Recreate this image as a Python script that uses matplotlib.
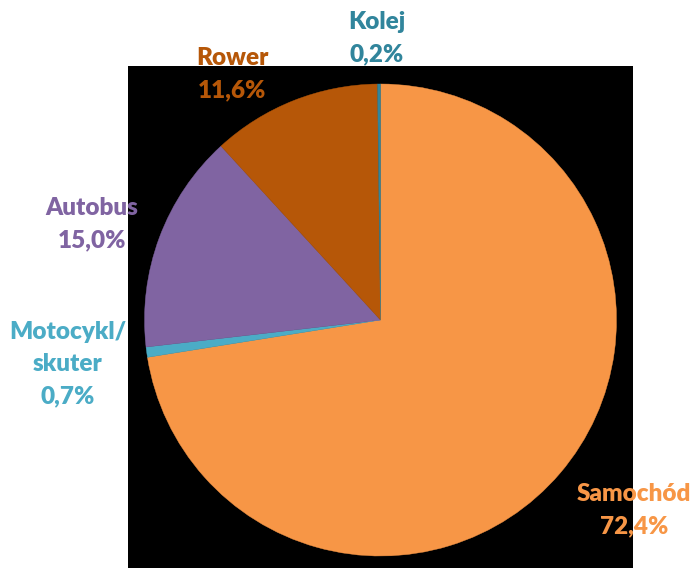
import matplotlib
matplotlib.use("Agg")
import matplotlib.pyplot as plt
from matplotlib.patches import Rectangle

categories = ["Samochód", "Motocykl/\nskuter", "Autobus", "Rower", "Kolej"]
values = [72.4, 0.7, 15.0, 11.6, 0.2]
pct_labels = ["72,4%", "0,7%", "15,0%", "11,6%", "0,2%"]
colors = ["#F79646", "#4BACC6", "#8064A2", "#B65708", "#31859C"]

# label anchor (top line centre) in pixel coords (y measured from top)
label_pos = [(634, 494), (68, 332), (92, 208), (232, 58), (377, 22)]

W, H = 696, 568
fig = plt.figure(figsize=(W / 100, H / 100), dpi=100)
fig.patch.set_facecolor("white")
ax = fig.add_axes([0, 0, 1, 1])

# black plot-area background
ax.add_patch(Rectangle((128, 0), 505, H - 66, facecolor="black", edgecolor="none", zorder=0))

cx, cy, r = 380.5, H - 320, 236
wedges, _ = ax.pie(values, colors=colors, startangle=90, counterclock=False,
                   center=(cx, cy), radius=r, frame=True)
for w, c in zip(wedges, colors):
    w.set_edgecolor(c)
    w.set_linewidth(0.3)
ax.set_xlim(0, W)
ax.set_ylim(0, H)
ax.set_aspect("auto")
ax.axis("off")

pitch = 32
for name, pct, col, (x, y) in zip(categories, pct_labels, colors, label_pos):
    lines = name.split("\n") + [pct]
    for i, ln in enumerate(lines):
        ax.text(x, H - (y + i * pitch), ln, ha="center", va="center",
                color=col, fontsize=17.5, fontweight="heavy",
                family=["Lato", "DejaVu Sans"], zorder=5)

fig.savefig("out.png", dpi=100, facecolor="white")
